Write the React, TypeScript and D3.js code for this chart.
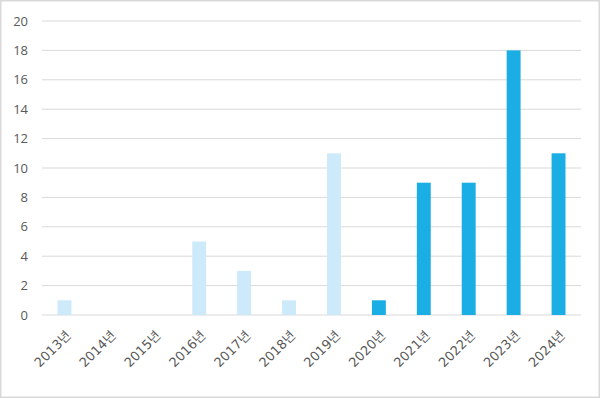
import React from "react";
import * as d3 from "d3";

const categories = ["2013년","2014년","2015년","2016년","2017년","2018년","2019년","2020년","2021년","2022년","2023년","2024년"];
const values = [1,0,0,5,3,1,11,1,9,9,18,11];
const highlight = [false,false,false,false,false,false,false,true,true,true,true,true];
const yTicks = [0,2,4,6,8,10,12,14,16,18,20];

const W = 600, H = 398;
const left = 42, right = 581, top = 21, bottom = 315;

export default function App() {
  const x = d3.scaleBand<string>().domain(categories).range([left, right]).paddingInner(0.69).paddingOuter(0.345);
  const y = d3.scaleLinear().domain([0, 20]).range([bottom, top]);
  return (
    <svg width={W} height={H} style={{ position: "absolute", left: 0, top: 0 }} fontFamily="'Open Sans', 'Noto Sans CJK KR', sans-serif">
      <rect x={0.75} y={0.75} width={W - 1.5} height={H - 1.5} fill="#fff" stroke="#d9d9d9" strokeWidth={1.5} />
      {yTicks.map(t => (
        <g key={t}>
          <line x1={left} x2={right} y1={y(t)} y2={y(t)} stroke="#d9d9d9" strokeWidth={1} />
          <text x={28} y={y(t)} dy="0.35em" textAnchor="end" fontSize={13} fill="#595959">{t}</text>
        </g>
      ))}
      {categories.map((c, i) => (
        <rect key={c} x={x(c)} y={y(values[i])} width={x.bandwidth()} height={y(0) - y(values[i])}
          fill={highlight[i] ? "#1aaee5" : "#cdeafb"} />
      ))}
      {categories.map(c => {
        const cx = (x(c) as number) + x.bandwidth() / 2 + 4;
        const cy = bottom + 18;
        return (
          <text key={c} transform={`translate(${cx},${cy}) rotate(-45)`} textAnchor="end" dy="0.35em" fontSize={13} fill="#595959"
            fontFamily="'DejaVu Sans', 'Noto Sans CJK KR', sans-serif">{c}</text>
        );
      })}
    </svg>
  );
}
